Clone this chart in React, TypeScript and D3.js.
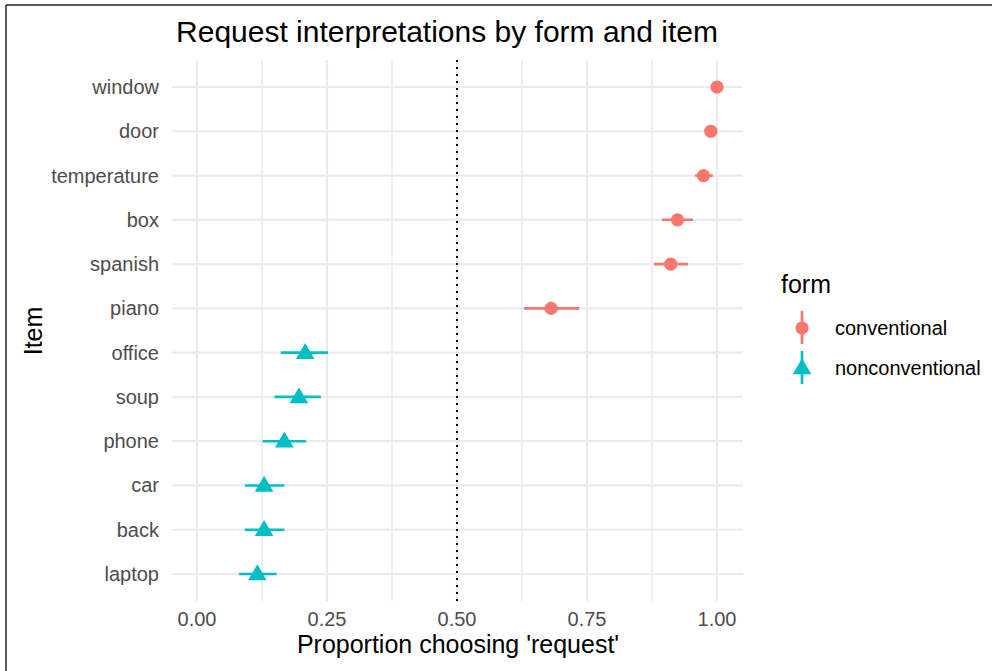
import React from "react";
import * as d3 from "d3";

const items = ["window", "door", "temperature", "box", "spanish", "piano", "office", "soup", "phone", "car", "back", "laptop"];
const forms = ["conventional", "conventional", "conventional", "conventional", "conventional", "conventional", "nonconventional", "nonconventional", "nonconventional", "nonconventional", "nonconventional", "nonconventional"];
const means = [1.0, 0.988, 0.974, 0.924, 0.911, 0.681, 0.208, 0.196, 0.168, 0.129, 0.129, 0.116];
const lowers = [1.0, 0.984, 0.958, 0.894, 0.879, 0.629, 0.161, 0.149, 0.126, 0.092, 0.092, 0.081];
const uppers = [1.0, 0.992, 0.992, 0.954, 0.944, 0.735, 0.252, 0.238, 0.21, 0.168, 0.168, 0.153];
const xTicks = [0, 0.25, 0.5, 0.75, 1.0];
const xMinor = [0.125, 0.375, 0.625, 0.875];
const formLevels = ["conventional", "nonconventional"];
const formColors = ["#F8766D", "#00BFC4"];

const W = 992, H = 671;
const panel = { left: 172, right: 743, top: 60, bottom: 601 };
const FONT = "'Liberation Sans', Arial, Helvetica, sans-serif";

export default function App() {
  const x = d3.scaleLinear().domain([0, 1]).range([197, 717]);
  const y = d3.scalePoint<string>().domain(items).range([87, 574]);
  const color = d3.scaleOrdinal<string, string>().domain(formLevels).range(formColors);
  const tri = d3.symbol().type(d3.symbolTriangle).size(150)();
  const fmt = d3.format(".2f");

  return (
    <svg width={W} height={H} style={{ position: "absolute", left: 0, top: 0, background: "#fff" }} fontFamily={FONT}>
      <rect x={0} y={0} width={W} height={H} fill="#fff" />
      <line x1={6} y1={5} x2={W} y2={5} stroke="#222" strokeWidth={1.5} />
      <line x1={6} y1={5} x2={6} y2={H} stroke="#222" strokeWidth={1.5} />

      {xMinor.map((t) => (
        <line key={"mn" + t} x1={x(t)} x2={x(t)} y1={panel.top} y2={panel.bottom} stroke="#EBEBEB" strokeWidth={1.6} />
      ))}
      {xTicks.map((t) => (
        <line key={"mj" + t} x1={x(t)} x2={x(t)} y1={panel.top} y2={panel.bottom} stroke="#EBEBEB" strokeWidth={2.2} />
      ))}
      {items.map((it) => (
        <line key={"hg" + it} x1={panel.left} x2={panel.right} y1={y(it)!} y2={y(it)!} stroke="#EBEBEB" strokeWidth={2.2} />
      ))}

      <line x1={x(0.5)} x2={x(0.5)} y1={panel.top} y2={panel.bottom} stroke="#000" strokeWidth={2} strokeDasharray="2,5" />

      {items.map((it, i) => {
        const c = color(forms[i]);
        const cy = y(it)!;
        return (
          <g key={"pt" + it}>
            <line x1={x(lowers[i])} x2={x(uppers[i])} y1={cy} y2={cy} stroke={c} strokeWidth={2.6} />
            {forms[i] === "conventional" ? (
              <circle cx={x(means[i])} cy={cy} r={6.6} fill={c} />
            ) : (
              <path d={tri!} transform={`translate(${x(means[i])},${cy + 1})`} fill={c} />
            )}
          </g>
        );
      })}

      {items.map((it) => (
        <text key={"yl" + it} x={159} y={y(it)! + 7} textAnchor="end" fontSize={20} fill="#4D4D4D">
          {it}
        </text>
      ))}
      {xTicks.map((t) => (
        <text key={"xl" + t} x={x(t)} y={626} textAnchor="middle" fontSize={20} fill="#4D4D4D">
          {fmt(t)}
        </text>
      ))}

      <text x={458} y={653} textAnchor="middle" fontSize={25} fill="#000">
        Proportion choosing 'request'
      </text>
      <text transform="translate(42,331) rotate(-90)" textAnchor="middle" fontSize={25} fill="#000">
        Item
      </text>
      <text x={447} y={42} textAnchor="middle" fontSize={30} fill="#000">
        Request interpretations by form and item
      </text>

      <text x={781} y={293} fontSize={25} fill="#000">form</text>
      {formLevels.map((f, i) => {
        const cy = 328 + i * 40;
        const c = color(f);
        return (
          <g key={"lg" + f}>
            <line x1={802} x2={802} y1={cy - 17} y2={cy + 16} stroke={c} strokeWidth={2.6} />
            {i === 0 ? (
              <circle cx={802} cy={cy} r={6.6} fill={c} />
            ) : (
              <path d={tri!} transform={`translate(802,${cy + 1})`} fill={c} />
            )}
            <text x={835} y={cy + 7} fontSize={20} fill="#000">{f}</text>
          </g>
        );
      })}
    </svg>
  );
}
